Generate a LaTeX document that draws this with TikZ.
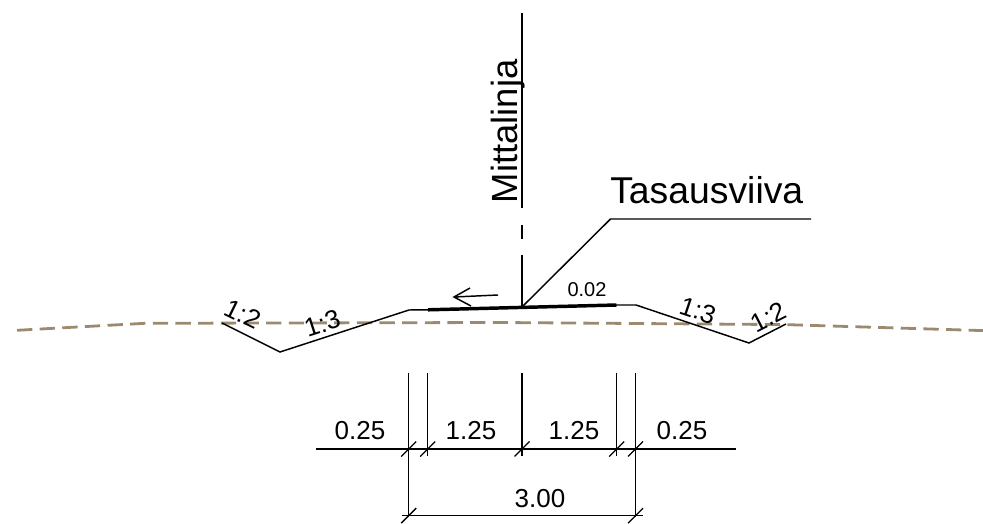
\documentclass[tikz,border=0pt]{standalone}
\usepackage{fontspec}
\setmainfont{Liberation Sans}
\definecolor{ground}{HTML}{9C8A70}
\tikzset{
  thinline/.style={draw=black,line width=1.1pt},
  groundline/.style={draw=ground,line width=2.1pt,dash pattern=on 11.5pt off 5.5pt},
  thickline/.style={draw=black,line width=2.6pt},
  bigtxt/.style={inner sep=0pt,font=\fontsize{28}{28}\selectfont},
  vertxt/.style={inner sep=0pt,font=\fontsize{27.3}{28}\selectfont},
  dimtxt/.style={inner sep=0pt,anchor=base,font=\fontsize{19.5}{20}\selectfont},
  smalltxt/.style={inner sep=0pt,anchor=base,font=\fontsize{15}{15}\selectfont},
  slopetxt/.style={inner sep=0pt,anchor=base,font=\fontsize{19.5}{20}\selectfont},
  tick/.style={draw=black,line width=1pt},
}
\begin{document}
\begin{tikzpicture}[x=0.75pt,y=-0.75pt]
\useasboundingbox (0,0) rectangle (983,524);
\coordinate (g0) at (17,330.3); \coordinate (g1) at (145,323.3); \coordinate (g2) at (500,322.5);
\coordinate (g3) at (785,324.6); \coordinate (g4) at (983,330.6);
\draw[groundline] (g0) -- (g1) -- (g2) -- (g3) -- (g4);
% road
\coordinate (r0) at (222,323); \coordinate (r1) at (280,352); \coordinate (r2) at (409,310);
\coordinate (r3) at (428,309.8); \coordinate (r4) at (616.5,305); \coordinate (r5) at (636,305);
\coordinate (r6) at (749,343); \coordinate (r7) at (786,324);
\draw[thinline,line join=miter] (r0) -- (r1) -- (r2) -- (r3) -- (r4) -- (r5) -- (r6) -- (r7);
\draw[thickline] (r3) -- (r4);
% centre line
\coordinate (c0) at (522,13); \coordinate (c1) at (522,208); \coordinate (c2) at (522,225);
\coordinate (c3) at (522,239); \coordinate (c4) at (522,255); \coordinate (c5) at (522,307);
\draw[thinline] (c0) -- (c1) (c2) -- (c3) (c4) -- (c5);
\node[vertxt,rotate=90,anchor=base west] (mitta) at (517.5,203.5) {Mittalinja};
% leader
\coordinate (l0) at (523,306); \coordinate (l1) at (610.5,219); \coordinate (l2) at (811,219);
\draw[thinline] (l0) -- (l1) -- (l2);
\node[bigtxt,anchor=base west] (tas) at (610,204) {Tasausviiva};
% arrow
\coordinate (a0) at (498,295); \coordinate (a1) at (454,297); \coordinate (a2) at (470,288); \coordinate (a3) at (471,306);
\draw[thinline] (a0) -- (a1) (a2) -- (a1) -- (a3);
\node[smalltxt] (grade) at (587,297) {0.02};
% slopes
\node[slopetxt,rotate=-26] (s1) at (239,322) {1:2};
\node[slopetxt,rotate=18] (s2) at (325,332) {1:3};
\node[slopetxt,rotate=-18.5] (s3) at (695,319) {1:3};
\node[slopetxt,rotate=27] (s4) at (772.5,325) {1:2};
% dimension lines
\coordinate (d0) at (316,449); \coordinate (d1) at (736,449);
\coordinate (e0) at (402,515.7); \coordinate (e1) at (643,515.7);
\draw[thinline] (d0) -- (d1) (e0) -- (e1);
\foreach \n/\x/\yb in {a/408.7/517,b/427.7/456,c/522/456,d/616.7/456,e/635.5/517}{
  \coordinate (x\n) at (\x,373); \coordinate (y\n) at (\x,\yb);
  \draw[thinline] (x\n) -- (y\n);
  \draw[tick] (\x-7.5,456.5) -- (\x+7.5,441.5);
}
\draw[tick] (401.2,523.2) -- (416.2,508.2);
\draw[tick] (628,523.2) -- (643,508.2);
\node[dimtxt] (t1) at (360,440) {0.25};
\node[dimtxt] (t2) at (471,440) {1.25};
\node[dimtxt] (t3) at (574,440) {1.25};
\node[dimtxt] (t4) at (682,440) {0.25};
\node[dimtxt] (t5) at (540,507) {3.00};
\end{tikzpicture}
\end{document}
